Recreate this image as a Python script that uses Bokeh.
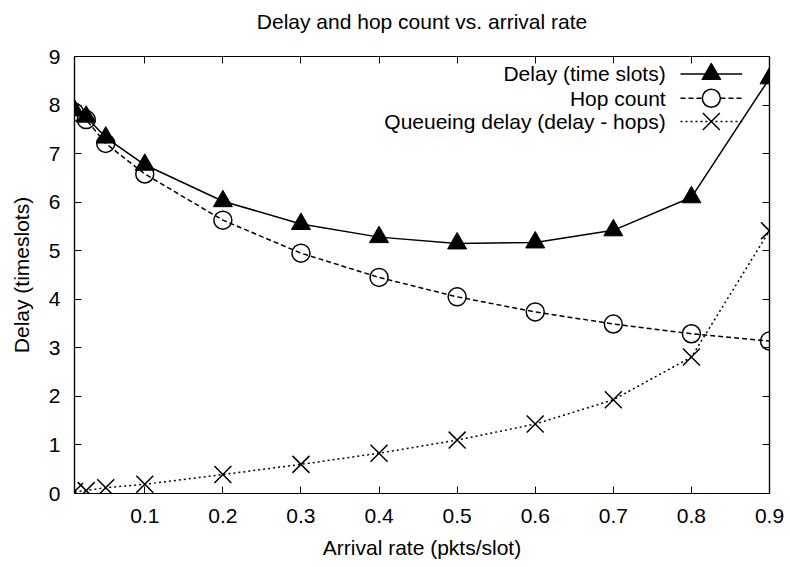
from bokeh.plotting import figure
from bokeh.models import Range1d, FixedTicker, LinearAxis, Label
from bokeh.embed import file_html
from bokeh.resources import INLINE

# ---- data ----
arrival_rate = [0.01, 0.025, 0.05, 0.1, 0.2, 0.3, 0.4, 0.5, 0.6, 0.7, 0.8, 0.9]
delay = [7.89, 7.76, 7.33, 6.77, 6.02, 5.55, 5.28, 5.15, 5.17, 5.42, 6.10, 8.55]
hop_count = [7.85, 7.70, 7.21, 6.58, 5.63, 4.95, 4.45, 4.05, 3.74, 3.49, 3.29, 3.14]
queueing = [0.04, 0.06, 0.12, 0.19, 0.39, 0.60, 0.83, 1.10, 1.43, 1.93, 2.81, 5.41]
x_ticks = [0.1, 0.2, 0.3, 0.4, 0.5, 0.6, 0.7, 0.8, 0.9]
y_ticks = [0, 1, 2, 3, 4, 5, 6, 7, 8, 9]
series_names = ["Delay (time slots)", "Hop count", "Queueing delay (delay - hops)"]
title_text = "Delay and hop count vs. arrival rate"

FONT = "Liberation Sans"
FS = "21px"

p = figure(width=790, height=567, x_range=Range1d(0.01, 0.9), y_range=Range1d(0, 9),
           output_backend="svg", toolbar_location=None,
           min_border_left=74, min_border_right=21, min_border_top=56, min_border_bottom=74)
p.background_fill_color = "white"
p.border_fill_color = "white"
p.outline_line_color = "black"
p.outline_line_width = 1.2
p.grid.visible = False

p.title.text = title_text
p.title.align = "center"
p.title.text_font = FONT
p.title.text_font_size = FS
p.title.text_font_style = "normal"
p.title.text_color = "black"
p.title.standoff = 4


def style_axis(ax, ticks, labels=True):
    ax.ticker = FixedTicker(ticks=ticks)
    ax.major_tick_in = 7
    ax.major_tick_out = 0
    ax.minor_tick_in = 0
    ax.minor_tick_out = 0
    ax.major_tick_line_color = "black"
    ax.major_tick_line_width = 1
    ax.axis_line_color = "black"
    ax.axis_line_width = 1.2
    if labels:
        ax.major_label_text_font = FONT
        ax.major_label_text_font_size = FS
        ax.major_label_text_color = "black"
        ax.axis_label_text_font = FONT
        ax.axis_label_text_font_size = FS
        ax.axis_label_text_font_style = "normal"
        ax.axis_label_text_color = "black"
    else:
        # mirror axis: ticks only, labels not painted
        ax.major_label_text_font_size = "1px"
        ax.major_label_text_color = None
        ax.major_label_standoff = 0


style_axis(p.xaxis[0], x_ticks)
style_axis(p.yaxis[0], y_ticks)
p.xaxis[0].axis_label = "Arrival rate (pkts/slot)"
p.yaxis[0].axis_label = "Delay (timeslots)"
p.xaxis[0].major_label_standoff = 15
p.xaxis[0].axis_label_standoff = 10
p.yaxis[0].major_label_standoff = 14
p.yaxis[0].axis_label_standoff = 13

top_ax = LinearAxis()
style_axis(top_ax, x_ticks, labels=False)
p.add_layout(top_ax, "above")

# invisible spacer panel between the frame and the title
spacer = LinearAxis()
style_axis(spacer, x_ticks, labels=False)
spacer.major_tick_in = 0
spacer.major_tick_out = 22
spacer.major_tick_line_color = None
spacer.axis_line_color = None
p.add_layout(spacer, "above")

right_ax = LinearAxis()
style_axis(right_ax, y_ticks, labels=False)
p.add_layout(right_ax, "right")

TRI, CIR, CRO = 19, 18, 24

# ---- series ----
p.line(arrival_rate, delay, line_color="black", line_width=1.5)
p.scatter(arrival_rate, delay, marker="triangle", size=TRI, fill_color="black", line_color="black")

p.line(arrival_rate, hop_count, line_color="black", line_width=1.5, line_dash="5 3")
p.scatter(arrival_rate, hop_count, marker="circle", size=CIR, fill_color=None, line_color="black", line_width=1.5)

p.line(arrival_rate, queueing, line_color="black", line_width=1.5, line_dash="2 3")
p.scatter(arrival_rate, queueing, marker="x", size=CRO, line_color="black", line_width=1.5)

# ---- gnuplot-style key (text right, sample to the right) ----
key_text_x = 0.767
key_line = (0.786, 0.865)
key_mark_x = 0.8255
key_rows = [8.64, 8.14, 7.66]
dashes = ["solid", "5 3", "2 3"]
markers = ["triangle", "circle", "x"]
for name, ky, dash, mk in zip(series_names, key_rows, dashes, markers):
    p.add_layout(Label(x=key_text_x, y=ky, text=name, text_align="right", text_baseline="middle",
                       text_font=FONT, text_font_size=FS, text_color="black"))
    p.line(list(key_line), [ky, ky], line_color="black", line_width=1.5, line_dash=dash)
    if mk == "triangle":
        p.scatter([key_mark_x], [ky], marker=mk, size=TRI, fill_color="black", line_color="black")
    elif mk == "circle":
        p.scatter([key_mark_x], [ky], marker=mk, size=CIR, fill_color="white", line_color="black", line_width=1.5)
    else:
        p.scatter([key_mark_x], [ky], marker=mk, size=CRO, line_color="black", line_width=1.5)

open("out.html", "w").write(file_html(p, INLINE))
